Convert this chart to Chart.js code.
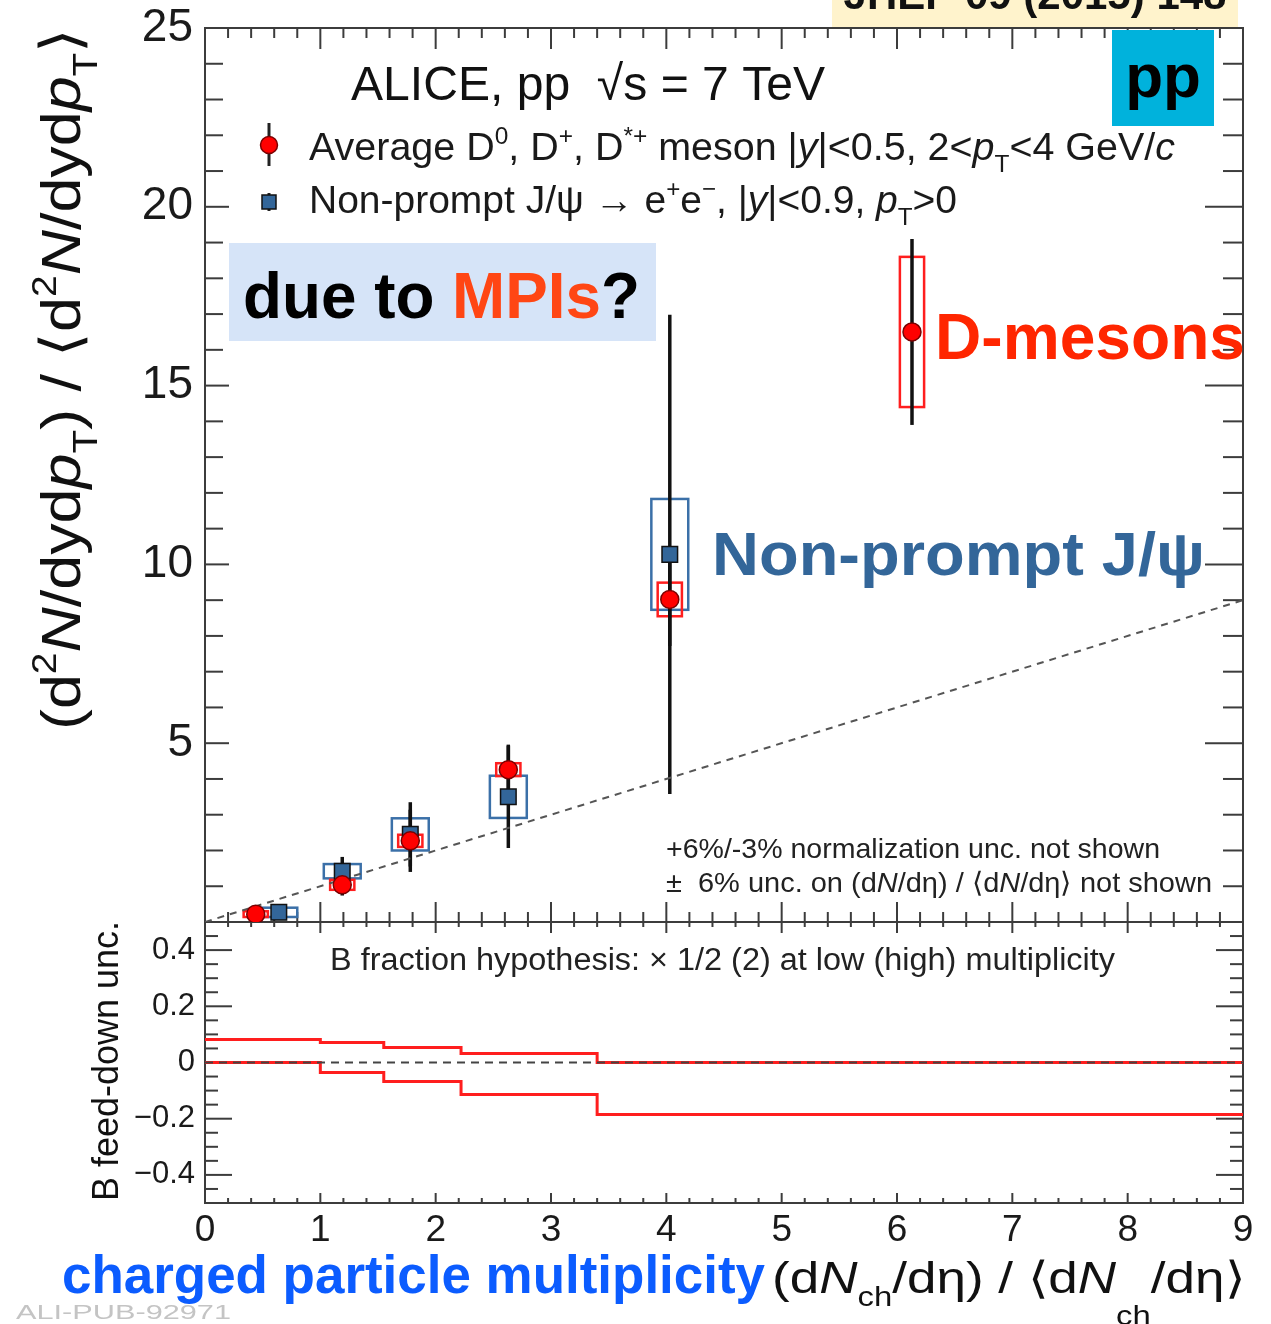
<!DOCTYPE html>
<html lang="en">
<head>
<meta charset="UTF-8">
<title>D-meson and non-prompt J/psi yields vs multiplicity</title>
<style>
    html, body { margin: 0; padding: 0; background: #ffffff; }
    #wrap { position: relative; width: 1271px; height: 1324px; }
    canvas { display: block; }
</style>
</head>
<body>
<div id="wrap"><canvas id="yieldChart" width="1271" height="1324"></canvas></div>
<script src="https://cdn.jsdelivr.net/npm/chart.js"></script>
<script>
// self-normalised yields vs self-normalised multiplicity, pp 7 TeV
const dMesonMult  = [0.44, 1.19, 1.78, 2.63, 4.03, 6.13];
const dMesonYield = [0.22, 1.04, 2.27, 4.26, 9.02, 16.5];
const dMesonStat  = [0.10, 0.30, 0.87, 0.70, 1.30, 2.60];
const dMesonSyst  = [0.08, 0.14, 0.17, 0.18, 0.47, 2.10];

const jpsiMult  = [0.64, 1.19, 1.78, 2.63, 4.03];
const jpsiYield = [0.27, 1.42, 2.45, 3.50, 10.28];
const jpsiStat  = [0.10, 0.40, 0.90, 1.43, 6.70];
const jpsiSyst  = [0.13, 0.20, 0.45, 0.59, 1.55];

// y = x reference
const refMult  = [0, 9];
const refYield = [0, 9];

// B feed-down uncertainty bands (bin edges + values per bin)
const fdEdges = [0, 1.0, 1.55, 2.22, 3.4, 9];
const fdUpper = [0.082, 0.071, 0.053, 0.032, 0.0];
const fdLower = [0.0, -0.036, -0.068, -0.114, -0.185];

const xTicks     = [0, 1, 2, 3, 4, 5, 6, 7, 8, 9];
const yTicks     = [5, 10, 15, 20, 25];
const ratioTicks = [-0.4, -0.2, 0, 0.2, 0.4];

const FONT = '"Liberation Sans", Arial, Helvetica, sans-serif';

const KINDS = {
    '':   { scale: 1,    dy: 0,     italic: false },
    i:    { scale: 1,    dy: 0,     italic: true },
    sup:  { scale: 0.62, dy: -0.42, italic: false },
    sub:  { scale: 0.62, dy: 0.30,  italic: false },
    low:  { scale: 0.62, dy: 0.72,  italic: false }
};

// text with italics / sub- and superscripts, optionally squeezed to a width
function richText(ctx, parts, x, y, size, opts = {}) {
    const { width, align = 'left', bold = false, color = '#111' } = opts;
    const fontFor = k => `${k.italic ? 'italic ' : ''}${bold ? 'bold ' : ''}${(size * k.scale).toFixed(1)}px ${FONT}`;
    let natural = 0;
    for (const [t, kind] of parts) {
        ctx.font = fontFor(KINDS[kind]);
        natural += ctx.measureText(t).width;
    }
    const sx = width ? width / natural : 1;
    const total = natural * sx;
    const start = align === 'center' ? -total / 2 : align === 'right' ? -total : 0;
    ctx.save();
    ctx.translate(x + start, y);
    ctx.scale(sx, 1);
    ctx.textAlign = 'left';
    ctx.textBaseline = 'alphabetic';
    let cx = 0;
    for (const [t, kind, col] of parts) {
        const k = KINDS[kind];
        ctx.font = fontFor(k);
        ctx.fillStyle = col || color;
        ctx.fillText(t, cx, k.dy * size);
        cx += ctx.measureText(t).width;
    }
    ctx.restore();
}

function seg(ctx, x1, y1, x2, y2) {
    ctx.beginPath();
    ctx.moveTo(x1, y1);
    ctx.lineTo(x2, y2);
    ctx.stroke();
}

// keep the pads at fixed pixel extents: no extra room for edge labels
function fixedWidth(w) {
    return s => {
        s.width = w;
        s.paddingTop = 0;
        s.paddingBottom = 0;
    };
}

// ROOT-style frames with inward ticks on all sides of both pads
const framePlugin = {
    id: 'padFrames',
    beforeDatasetsDraw(chart) {
        const { ctx, chartArea: a } = chart;
        const { x, y, y2 } = chart.scales;
        ctx.save();
        ctx.strokeStyle = '#3c3c3c';
        ctx.lineWidth = 2;
        ctx.strokeRect(a.left, y.top, a.right - a.left, y.bottom - y.top);
        ctx.strokeRect(a.left, y2.top, a.right - a.left, y2.bottom - y2.top);

        for (let i = 0; i <= 45; i++) {
            const px = x.getPixelForValue(i / 5);
            const major = i % 5 === 0;
            seg(ctx, px, y.top, px, y.top + (major ? 21 : 10));
            seg(ctx, px, y.bottom, px, y.bottom - (major ? 20 : 10));
            seg(ctx, px, y2.top, px, y2.top + (major ? 11 : 5));
            seg(ctx, px, y2.bottom, px, y2.bottom - (major ? 10 : 5));
        }
        for (let i = 0; i <= 25; i++) {
            const py = y.getPixelForValue(i);
            const major = i % 5 === 0;
            seg(ctx, a.left, py, a.left + (major ? 24 : 18), py);
            seg(ctx, a.right, py, a.right - (major ? 38 : 20), py);
        }
        for (let i = -10; i <= 10; i++) {
            const py = y2.getPixelForValue(i * 0.05);
            const major = i % 4 === 0;
            seg(ctx, a.left, py, a.left + (major ? 27 : 13), py);
            seg(ctx, a.right, py, a.right - (major ? 27 : 13), py);
        }
        ctx.restore();
    }
};

// systematic boxes and statistical bars, under the markers
const errorPlugin = {
    id: 'errorBars',
    beforeDatasetsDraw(chart) {
        const { ctx } = chart;
        const { x, y } = chart.scales;
        ctx.save();
        const box = (xs, ys, err, halfW, color) => {
            ctx.strokeStyle = color;
            ctx.lineWidth = 2.5;
            xs.forEach((v, i) => {
                const l = x.getPixelForValue(v - halfW), r = x.getPixelForValue(v + halfW);
                const t = y.getPixelForValue(ys[i] + err[i]), b = y.getPixelForValue(ys[i] - err[i]);
                ctx.strokeRect(l, t, r - l, b - t);
            });
        };
        box(jpsiMult, jpsiYield, jpsiSyst, 0.16, '#3b70a8');
        box(dMesonMult, dMesonYield, dMesonSyst, 0.105, '#ff1e1e');

        ctx.strokeStyle = '#111';
        ctx.lineWidth = 3.5;
        const bars = (xs, ys, err) => xs.forEach((v, i) => {
            const px = x.getPixelForValue(v);
            seg(ctx, px, y.getPixelForValue(ys[i] + err[i]), px, y.getPixelForValue(ys[i] - err[i]));
        });
        bars(jpsiMult, jpsiYield, jpsiStat);
        bars(dMesonMult, dMesonYield, dMesonStat);
        ctx.restore();
    }
};

const textPlugin = {
    id: 'figureText',
    afterDraw(chart) {
        const { ctx } = chart;
        ctx.save();

        // journal tag and system box
        ctx.fillStyle = '#fff3cc';
        ctx.fillRect(832, 0, 406, 27);
        ctx.font = `bold 42px ${FONT}`;
        ctx.fillStyle = '#111';
        ctx.textAlign = 'center';
        ctx.fillText('JHEP 09 (2015) 148', 1035, 9);
        ctx.fillStyle = '#00b2dc';
        ctx.fillRect(1112, 30, 102, 96);
        ctx.font = `bold 62px ${FONT}`;
        ctx.fillStyle = '#000';
        ctx.fillText('pp', 1163, 97);

        richText(ctx, [['ALICE, pp  \u221As = 7 TeV', '']], 351, 100, 49, { width: 474 });

        // legend
        ctx.strokeStyle = '#222';
        ctx.lineWidth = 3;
        seg(ctx, 269, 123, 269, 166);
        ctx.beginPath();
        ctx.arc(269, 145, 8.5, 0, Math.PI * 2);
        ctx.fillStyle = '#ff0000';
        ctx.fill();
        ctx.lineWidth = 1.5;
        ctx.strokeStyle = '#7a0000';
        ctx.stroke();
        ctx.strokeStyle = '#222';
        ctx.lineWidth = 3;
        seg(ctx, 269, 193, 269, 211);
        ctx.fillStyle = '#336699';
        ctx.fillRect(262, 195, 14, 14);
        ctx.lineWidth = 1.5;
        ctx.strokeStyle = '#111';
        ctx.strokeRect(262, 195, 14, 14);

        richText(ctx, [
            ['Average D', ''], ['0', 'sup'], [', D', ''], ['+', 'sup'], [', D', ''], ['*+', 'sup'],
            [' meson |', ''], ['y', 'i'], ['|<0.5, 2<', ''], ['p', 'i'], ['T', 'sub'],
            ['<4 GeV/', ''], ['c', 'i']
        ], 309, 160, 39, { width: 866, color: '#1a1a1a' });
        richText(ctx, [
            ['Non-prompt J/\u03C8 \u2192 e', ''], ['+', 'sup'], ['e', ''], ['\u2212', 'sup'],
            [', |', ''], ['y', 'i'], ['|<0.9, ', ''], ['p', 'i'], ['T', 'sub'], ['>0', '']
        ], 309, 213, 39, { width: 648, color: '#1a1a1a' });

        // call-outs
        ctx.fillStyle = '#d6e4f8';
        ctx.fillRect(229, 243, 427, 98);
        richText(ctx, [['due to ', '', '#000'], ['MPIs', '', '#ff4614'], ['?', '', '#000']],
            243, 318, 64, { width: 397, bold: true });
        richText(ctx, [['D-mesons', '']], 935, 359, 64, { width: 310, bold: true, color: '#ff2600' });
        richText(ctx, [['Non-prompt J/\u03C8', '']], 712, 575, 62, { width: 493, bold: true, color: '#336699' });

        richText(ctx, [['+6%/-3% normalization unc. not shown', '']], 666, 858, 28, { width: 494, color: '#222' });
        richText(ctx, [
            ['\u00B1  6% unc. on (d', ''], ['N', 'i'], ['/d\u03B7) / \u27E8d', ''], ['N', 'i'], ['/d\u03B7\u27E9 not shown', '']
        ], 666, 892, 28, { width: 546, color: '#222' });
        richText(ctx, [['B fraction hypothesis: \u00D7 1/2 (2) at low (high) multiplicity', '']],
            330, 970, 31, { width: 785, color: '#222' });

        // axis titles
        ctx.save();
        ctx.translate(80, 379);
        ctx.rotate(-Math.PI / 2);
        richText(ctx, [
            ['(d', ''], ['2', 'sup'], ['N', 'i'], ['/dyd', ''], ['p', 'i'], ['T', 'sub'],
            [') / \u27E8d', ''], ['2', 'sup'], ['N', 'i'], ['/dyd', ''], ['p', 'i'], ['T', 'sub'], ['\u27E9', '']
        ], 0, 0, 56, { width: 702, align: 'center', color: '#111' });
        ctx.restore();

        ctx.save();
        ctx.translate(118, 1061);
        ctx.rotate(-Math.PI / 2);
        richText(ctx, [['B feed-down unc.', '']], 0, 0, 37, { width: 280, align: 'center', color: '#111' });
        ctx.restore();

        richText(ctx, [['charged particle multiplicity', '']], 62, 1293, 53, { width: 703, bold: true, color: '#0b5cff' });
        richText(ctx, [
            ['(d', ''], ['N', 'i'], ['ch', 'sub'], ['/d\u03B7) / \u27E8d', ''], ['N', 'i'], ['ch', 'low'], ['/d\u03B7\u27E9', '']
        ], 772, 1293, 44, { width: 473, color: '#111' });

        richText(ctx, [['ALI-PUB-92971', '']], 16, 1319, 20, { width: 215, color: '#c4c4c4' });
        ctx.restore();
    }
};

const ctx = document.getElementById('yieldChart').getContext('2d');
const yieldChart = new Chart(ctx, {
    type: 'scatter',
    data: {
        datasets: [
            {
                label: 'D mesons',
                data: dMesonMult.map((v, i) => ({ x: v, y: dMesonYield[i] })),
                yAxisID: 'y',
                pointStyle: 'circle',
                pointRadius: 9,
                backgroundColor: '#ff0000',
                borderColor: '#7a0000',
                borderWidth: 1.5
            },
            {
                label: 'Non-prompt J/psi',
                data: jpsiMult.map((v, i) => ({ x: v, y: jpsiYield[i] })),
                yAxisID: 'y',
                pointStyle: 'rect',
                pointRadius: 11,
                backgroundColor: '#336699',
                borderColor: '#111111',
                borderWidth: 1.5
            },
            {
                label: 'y = x',
                type: 'line',
                data: refMult.map((v, i) => ({ x: v, y: refYield[i] })),
                yAxisID: 'y',
                borderColor: '#555555',
                borderWidth: 2,
                borderDash: [7, 6],
                pointRadius: 0
            },
            {
                label: 'zero',
                type: 'line',
                data: [{ x: 0, y: 0 }, { x: 9, y: 0 }],
                yAxisID: 'y2',
                borderColor: '#444444',
                borderWidth: 2,
                borderDash: [8, 6],
                pointRadius: 0
            },
            {
                label: 'feed-down upper',
                type: 'line',
                data: fdEdges.map((e, i) => ({ x: e, y: fdUpper[Math.min(i, fdUpper.length - 1)] })),
                yAxisID: 'y2',
                stepped: 'before',
                borderColor: '#ff1e1e',
                borderWidth: 3,
                pointRadius: 0
            },
            {
                label: 'feed-down lower',
                type: 'line',
                data: fdEdges.map((e, i) => ({ x: e, y: fdLower[Math.min(i, fdLower.length - 1)] })),
                yAxisID: 'y2',
                stepped: 'before',
                borderColor: '#ff1e1e',
                borderWidth: 3,
                pointRadius: 0
            }
        ]
    },
    options: {
        responsive: false,
        animation: false,
        layout: { padding: { top: 28, right: 28, left: 0, bottom: 0 } },
        plugins: { legend: { display: false }, tooltip: { enabled: false } },
        scales: {
            x: {
                type: 'linear',
                position: 'bottom',
                min: 0,
                max: 9,
                grid: { display: false, drawTicks: false },
                border: { display: false },
                afterBuildTicks: s => { s.ticks = xTicks.map(v => ({ value: v })); },
                afterFit: s => { s.height = 121; s.paddingLeft = 0; s.paddingRight = 0; },
                ticks: { font: { family: FONT, size: 37 }, color: '#1a1a1a', padding: 6, maxRotation: 0, autoSkip: false }
            },
            y: {
                type: 'linear',
                position: 'left',
                stack: 'pads',
                stackWeight: 894,
                weight: 2,
                min: 0,
                max: 25,
                grid: { display: false, drawTicks: false },
                border: { display: false },
                afterBuildTicks: s => { s.ticks = yTicks.map(v => ({ value: v })); },
                afterFit: fixedWidth(205),
                ticks: { font: { family: FONT, size: 46 }, color: '#1a1a1a', padding: 12, autoSkip: false }
            },
            y2: {
                type: 'linear',
                position: 'left',
                stack: 'pads',
                stackWeight: 281,
                weight: 1,
                min: -0.5,
                max: 0.5,
                grid: { display: false, drawTicks: false },
                border: { display: false },
                afterBuildTicks: s => { s.ticks = ratioTicks.map(v => ({ value: v })); },
                afterFit: fixedWidth(205),
                ticks: {
                    font: { family: FONT, size: 31 },
                    color: '#1a1a1a',
                    padding: 10,
                    autoSkip: false,
                    callback: v => (v === 0 ? '0' : (v < 0 ? '\u2212' : '') + Math.abs(v).toFixed(1))
                }
            }
        }
    },
    plugins: [framePlugin, errorPlugin, textPlugin]
});
</script>
</body>
</html>
